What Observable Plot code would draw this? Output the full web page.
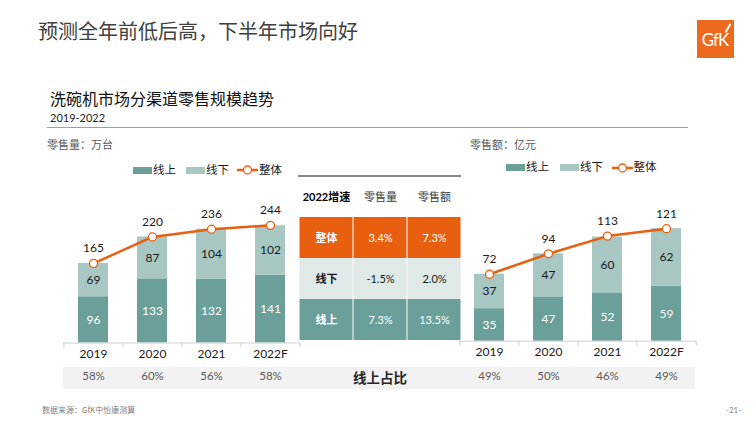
<!DOCTYPE html>
<html><head><meta charset="utf-8">
<script src="https://cdn.jsdelivr.net/npm/d3@7"></script>
<script src="https://cdn.jsdelivr.net/npm/@observablehq/plot@0.6"></script>
<style>
body{margin:0;background:#fff;}
#page{position:relative;width:756px;height:426px;overflow:hidden;font-family:Lato,"Noto Sans CJK SC",sans-serif;}
.abs{position:absolute;white-space:nowrap;line-height:1;}
.sw{position:absolute;height:7px;width:19px;}
.chart{position:absolute;}
</style></head><body><div id="page">
<div class="abs" style="left:38px;top:21px;font-size:20px;color:#404040;font-family:'Noto Sans CJK SC',sans-serif;">预测全年前低后高，下半年市场向好</div>
<div class="abs" style="left:697px;top:20px;width:37px;height:38px;background:#EC6A1E;"></div>
<div class="abs" style="left:698px;top:31px;width:34px;text-align:center;color:#fff;font-size:17px;font-family:Lato,sans-serif;letter-spacing:-1px;">GfK</div>
<div class="abs" style="left:727px;top:23px;width:1.5px;height:10px;background:#fff;transform:rotate(30deg);"></div>
<div class="abs" style="left:50px;top:90px;font-size:16px;color:#111;font-family:'Noto Sans CJK SC',sans-serif;">洗碗机市场分渠道零售规模趋势</div>
<div class="abs" style="left:50px;top:112px;font-size:11px;color:#222;font-family:Lato,sans-serif;">2019-2022</div>
<div class="abs" style="left:47px;top:127px;width:641px;height:1px;background:#a0a0a0;"></div>
<div class="abs" style="left:47px;top:139px;font-size:11px;color:#595959;font-family:'Noto Sans CJK SC',sans-serif;">零售量：万台</div>
<div class="abs" style="left:470px;top:139px;font-size:11px;color:#595959;font-family:'Noto Sans CJK SC',sans-serif;">零售额：亿元</div>
<div id="legends"></div>
<div class="abs" style="left:298px;top:175px;width:163px;height:1.5px;background:#888;"></div>
<div class="abs" style="left:63px;top:367px;width:632px;height:22px;background:#f2f2f2;"></div>
<div class="abs" style="left:352px;top:371px;width:56px;text-align:center;font-size:13.5px;font-weight:bold;color:#262626;font-family:'Noto Sans CJK SC',sans-serif;">线上占比</div>
<div class="abs" style="left:42px;top:406px;font-size:8px;color:#7f7f7f;font-family:'Noto Sans CJK SC',sans-serif;">数据来源：GfK中怡康测算</div>
<div class="abs" style="left:726px;top:406px;font-size:8px;color:#7f7f7f;">-21-</div>
<div id="left" class="chart" style="left:0px;top:190px;"></div>
<div id="table" class="chart" style="left:290px;top:170px;"></div>
<div id="right" class="chart" style="left:440px;top:190px;"></div>
</div>
<script>
const years = ["2019", "2020", "2021", "2022F"];
const series = ["线上", "线下", "整体"];
const volOnline = [96, 133, 132, 141];
const volOffline = [69, 87, 104, 102];
const volTotal = [165, 220, 236, 244];
const volShare = ["58%", "60%", "56%", "58%"];
const valOnline = [35, 47, 52, 59];
const valOffline = [37, 47, 60, 62];
const valTotal = [72, 94, 113, 121];
const valShare = ["49%", "50%", "46%", "49%"];
const growthCols = ["2022增速", "零售量", "零售额"];
const growthRows = ["整体", "线下", "线上"];
const growthVol = ["3.4%", "-1.5%", "7.3%"];
const growthVal = ["7.3%", "2.0%", "13.5%"];

const DARK = "#6B9F9A", LIGHT = "#A8C7C3", ORANGE = "#E8600F";
const FONT = "Lato, 'Noto Sans CJK SC', sans-serif";

function stackChart(o) {
  const rows = years.map((y, i) => ({year: y, online: o.online[i], offline: o.offline[i], total: o.total[i], share: o.share[i]}));
  const long = rows.flatMap(d => [{year: d.year, ch: series[0], v: d.online}, {year: d.year, ch: series[1], v: d.offline}]);
  const step = (o.width - o.marginLeft - o.marginRight) / years.length;
  return Plot.plot({
    width: o.width, height: o.height,
    marginLeft: o.marginLeft, marginRight: o.marginRight, marginTop: o.marginTop, marginBottom: o.marginBottom,
    style: {background: "transparent", overflow: "visible", fontFamily: FONT, fontSize: "11.5px"},
    x: {domain: years, paddingInner: 0.494, paddingOuter: 0.247, axis: null},
    y: {domain: [0, o.yMax], axis: null},
    color: {domain: series.slice(0, 2), range: [DARK, LIGHT]},
    marks: [
      Plot.barY(long, Plot.stackY({x: "year", y: "v", fill: "ch"})),
      Plot.ruleY([0], {stroke: "#d0d0d0"}),
      Plot.ruleX(years, {x: d => d, y1: 0, y2: 0, insetBottom: -5, dx: -step / 2, stroke: "#d0d0d0"}),
      Plot.ruleX(years.slice(-1), {x: d => d, y1: 0, y2: 0, insetBottom: -5, dx: step / 2, stroke: "#d0d0d0"}),
      Plot.text(rows, {x: "year", y: d => d.online / 2, text: d => String(d.online), fill: "white", fontSize: 12}),
      Plot.text(rows, {x: "year", y: d => d.online + d.offline / 2, text: d => String(d.offline), fill: "#1a1a1a", fontSize: 12}),
      Plot.line(rows, {x: "year", y: "total", stroke: ORANGE, strokeWidth: 2.5}),
      Plot.dot(rows, {x: "year", y: "total", r: 4, fill: "white", stroke: ORANGE, strokeWidth: 1.3}),
      Plot.text(rows, {x: "year", y: "total", text: d => String(d.total), dy: -15, fill: "#1a1a1a", fontSize: 12}),
      Plot.text(rows, {x: "year", text: "year", frameAnchor: "bottom", dy: o.yearDy, fill: "#1a1a1a", fontSize: 12}),
      Plot.text(rows, {x: "year", text: "share", frameAnchor: "bottom", dy: o.shareDy, fill: "#595959", fontSize: 11.5})
    ]
  });
}

document.getElementById("left").append(stackChart({
  online: volOnline, offline: volOffline, total: volTotal, share: volShare, yMax: 280,
  width: 310, height: 210, marginLeft: 63, marginRight: 10, marginTop: 17.5, marginBottom: 57.5,
  yearDy: 14.5, shareDy: 36.5
}));
document.getElementById("right").append(stackChart({
  online: valOnline, offline: valOffline, total: valTotal, share: valShare, yMax: 140,
  width: 316, height: 210, marginLeft: 18.5, marginRight: 60, marginTop: 20.5, marginBottom: 59.3,
  yearDy: 14.3, shareDy: 38.3
}));

// growth table
const rowFill = {"整体": ORANGE, "线下": "#DFE9E8", "线上": DARK};
const rowText = {"整体": "white", "线下": "#1a1a1a", "线上": "white"};
const header = growthCols.map(c => ({row: "", col: c, text: c}));
const cells = growthRows.flatMap((r, i) => [
  {row: r, col: growthCols[0], text: r},
  {row: r, col: growthCols[1], text: growthVol[i]},
  {row: r, col: growthCols[2], text: growthVal[i]}
]);
const tableMarks = [
  Plot.text(header.slice(0, 1), {x: "col", y: "row", text: "text", fill: "#000", fontWeight: "bold", fontSize: 11}),
  Plot.text(header.slice(1), {x: "col", y: "row", text: "text", fill: "#404040", fontSize: 11})
];
for (const r of growthRows) {
  const rc = cells.filter(d => d.row === r);
  tableMarks.push(
    Plot.cell(rc, {x: "col", y: "row", fill: rowFill[r], insetLeft: 0.5, insetRight: 0.5}),
    Plot.text(rc.slice(0, 1), {x: "col", y: "row", text: "text", fill: rowText[r], fontWeight: "bold", fontSize: 11}),
    Plot.text(rc.slice(1), {x: "col", y: "row", text: "text", fill: rowText[r], fontSize: 11})
  );
}
document.getElementById("table").append(Plot.plot({
  width: 180, height: 180, marginLeft: 8, marginRight: 9, marginTop: 5, marginBottom: 9,
  style: {background: "transparent", overflow: "visible", fontFamily: FONT},
  x: {domain: growthCols, padding: 0, axis: null},
  y: {domain: ["", ...growthRows], padding: 0, axis: null},
  marks: tableMarks
}));

// legends (HTML)
function legend(xs, y) {
  const page = document.getElementById("legends");
  const add = (html) => page.insertAdjacentHTML("beforeend", html);
  add(`<div class="sw" style="left:${xs[0]}px;top:${y - 3.5}px;background:${DARK}"></div>`);
  add(`<div class="abs" style="left:${xs[0] + 20}px;top:${y - 6.5}px;font-size:11.5px;color:#1a1a1a;font-family:'Noto Sans CJK SC'">${series[0]}</div>`);
  add(`<div class="sw" style="left:${xs[1]}px;top:${y - 3.5}px;background:${LIGHT}"></div>`);
  add(`<div class="abs" style="left:${xs[1] + 20}px;top:${y - 6.5}px;font-size:11.5px;color:#1a1a1a;font-family:'Noto Sans CJK SC'">${series[1]}</div>`);
  add(`<svg class="abs" style="left:${xs[2]}px;top:${y - 6}px" width="21" height="12"><line x1="0" x2="21" y1="6" y2="6" stroke="${ORANGE}" stroke-width="2.5"/><circle cx="10.5" cy="6" r="4" fill="white" stroke="${ORANGE}" stroke-width="1.3"/></svg>`);
  add(`<div class="abs" style="left:${xs[2] + 22}px;top:${y - 6.5}px;font-size:11.5px;color:#1a1a1a;font-family:'Noto Sans CJK SC'">${series[2]}</div>`);
}
legend([133, 186, 237], 170);
legend([506, 560, 611.5], 167.5);
</script>
</body></html>
